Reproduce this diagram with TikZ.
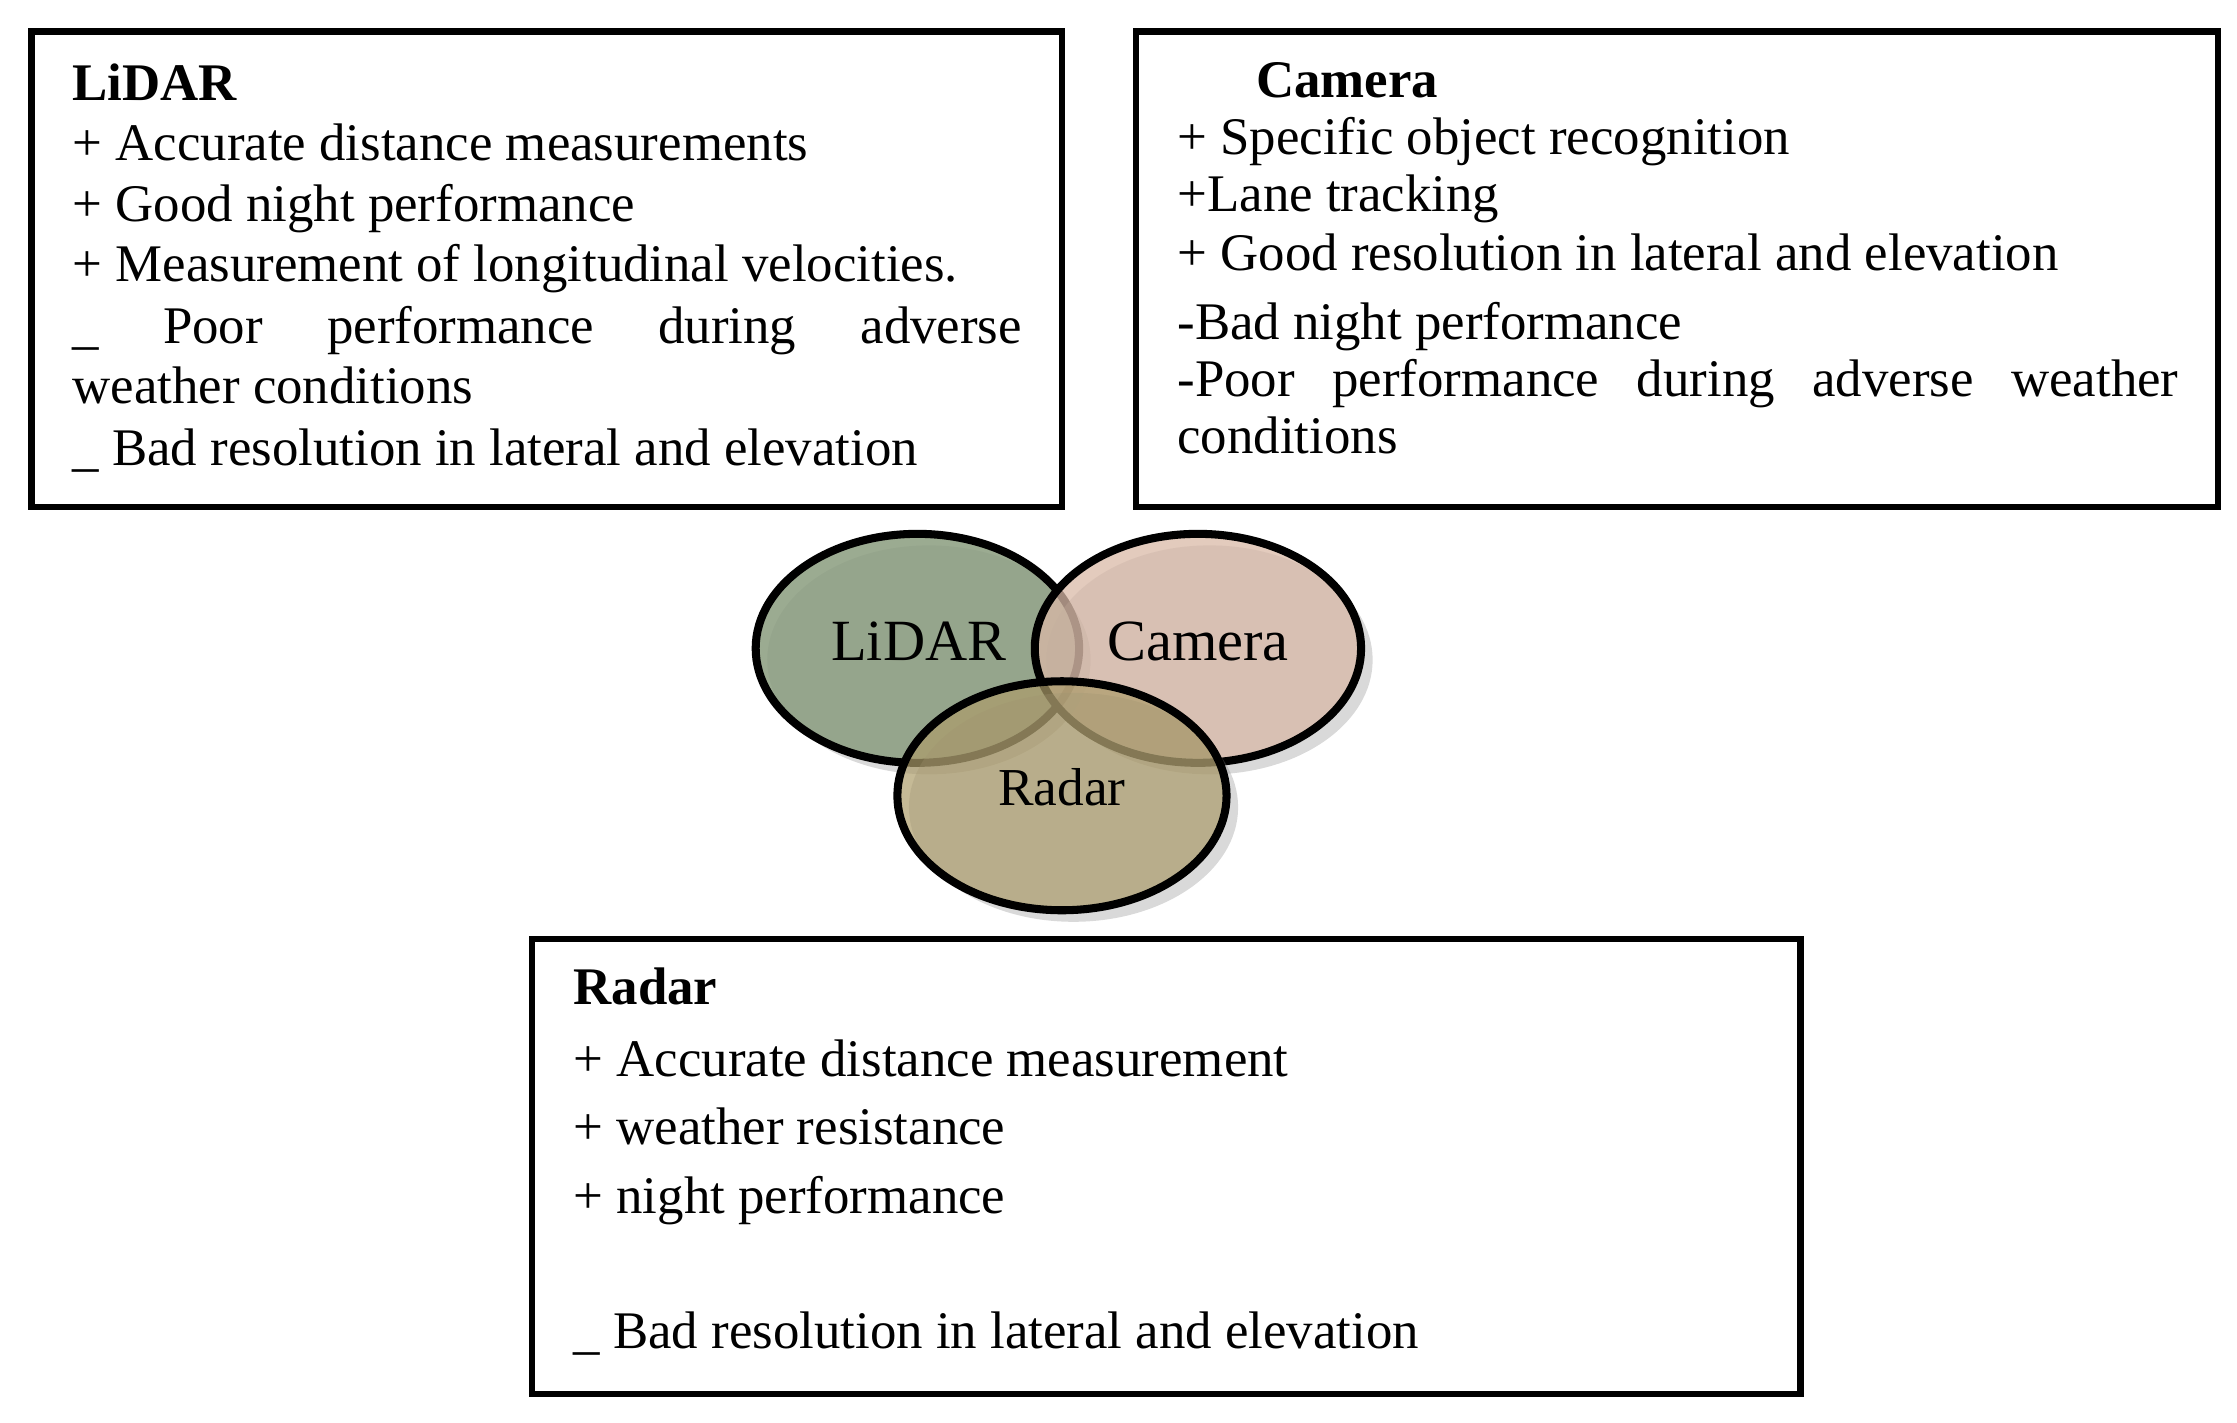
\documentclass[tikz,border=0pt]{standalone}
\usepackage{fontspec}
\setmainfont{Liberation Serif}
\usetikzlibrary{shadows}
\definecolor{lidarc}{HTML}{8A9C7E}
\definecolor{camerac}{HTML}{D9B9A7}
\definecolor{radarc}{HTML}{AC9C6A}
\tikzset{
  box/.style={draw, line width=1.2pt},
  txt/.style={anchor=base west, inner sep=0pt, font=\fontsize{10.5}{12}\selectfont},
  ttl/.style={txt, font=\fontsize{10.5}{12}\selectfont\bfseries},
  blob/.style={line width=1.6pt, draw opacity=1, drop shadow={opacity=.3}}
}
\begin{document}
\begin{tikzpicture}[x=0.01cm,y=-0.01cm]
	\useasboundingbox (0,0) rectangle (1563,994);
	% boxes
	\draw[box] (22,22) rectangle (742,354);
	\draw[box] (794,22) rectangle (1550,354);
	\draw[box] (372,656) rectangle (1258,974);
	% lidar text
	\node[ttl] (lt) at (50,70) {LiDAR};
	\node[txt] (l1) at (50,112) {+ Accurate distance measurements};
	\node[txt] (l2) at (50,155) {+ Good night performance};
	\node[txt] (l3) at (50,197) {+ Measurement of longitudinal velocities.};
	\node[txt] (l4) at (50,240) {\makebox[6.63cm][s]{\_ Poor performance during adverse}};
	\node[txt] (l5) at (50,282) {weather conditions};
	\node[txt] (l6) at (50,325) {\_ Bad resolution in lateral and elevation};
	% camera text
	\node[ttl] (ct) at (877,68) {Camera};
	\node[txt] (c1) at (822,108) {+ Specific object recognition};
	\node[txt] (c2) at (822,148) {+Lane tracking};
	\node[txt] (c3) at (822,189) {+ Good resolution in lateral and elevation};
	\node[txt] (c4) at (822,237) {-Bad night performance};
	\node[txt] (c5) at (822,277) {\makebox[6.99cm][s]{-Poor performance during adverse weather}};
	\node[txt] (c6) at (822,317) {conditions};
	% radar text
	\node[ttl] (rt) at (400,702) {Radar};
	\node[txt] (r1) at (400,752) {+ Accurate distance measurement};
	\node[txt] (r2) at (400,800) {+ weather resistance};
	\node[txt] (r3) at (400,848) {+ night performance};
	\node[txt] (r4) at (400,942) {\_ Bad resolution in lateral and elevation};
	% venn
	\filldraw[blob, fill=lidarc, fill opacity=.85] (641,453) ellipse [x radius=113, y radius=80];
	\filldraw[blob, fill=camerac, fill opacity=.75] (837,453) ellipse [x radius=114, y radius=80];
	\filldraw[blob, fill=radarc, fill opacity=.7] (742,556) ellipse [x radius=115, y radius=80];
	\node[font=\fontsize{11.6}{14}\selectfont] (vl) at (642,448) {LiDAR};
	\node[font=\fontsize{11.6}{14}\selectfont] (vc) at (837,448) {Camera};
	\node[font=\fontsize{10.6}{12}\selectfont] (vr) at (742,550) {Radar};
\end{tikzpicture}
\end{document}
